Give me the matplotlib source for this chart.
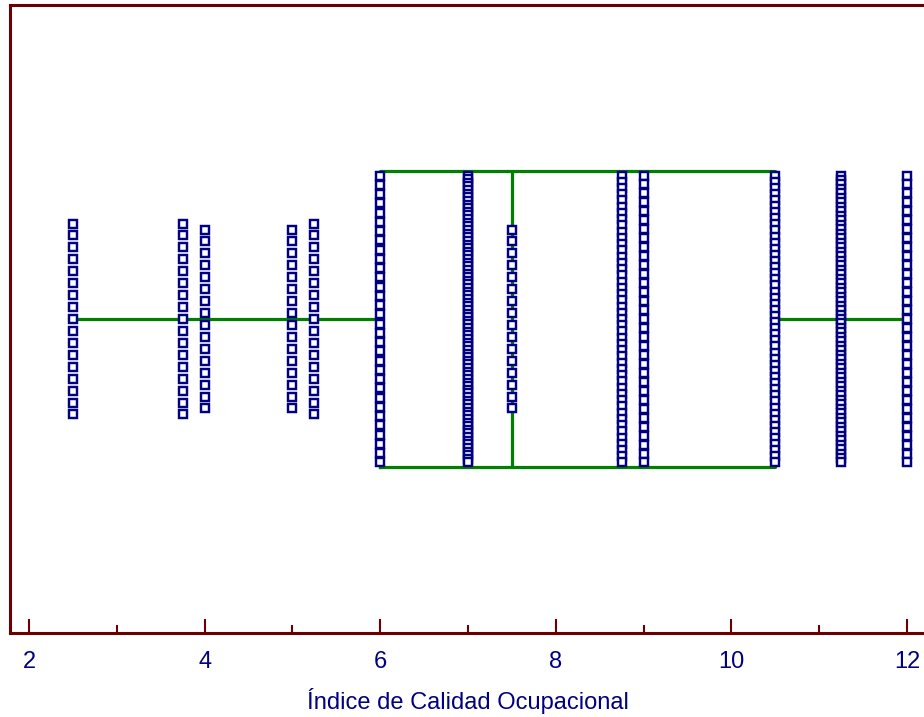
import matplotlib.pyplot as plt
import numpy as np
from matplotlib.ticker import MultipleLocator

# Distinct values of the index and how many points sit at each value
values = [2.5, 3.75, 4.0, 5.0, 5.25, 6.0, 7.0, 7.5, 8.75, 9.0, 10.5, 11.25, 12.0]
counts = [17, 17, 16, 16, 17, 32, 80, 16, 47, 33, 48, 65, 33]

# Box-and-whisker summary
q1 = 6.0
median = 7.5
q3 = 10.5
whisker_low = 2.5
whisker_high = 12.0

axis_color = '#6B0000'
text_color = '#000080'
line_color = '#008000'

plt.rcParams['font.family'] = ['Liberation Sans', 'DejaVu Sans']

fig = plt.figure(figsize=(9.24, 7.17), dpi=100)
ax = fig.add_axes([10 / 924, 84 / 717, 916 / 924, 628 / 717])

stats = [{'med': median, 'q1': q1, 'q3': q3,
          'whislo': whisker_low, 'whishi': whisker_high, 'fliers': []}]
line_props = dict(color=line_color, linewidth=2.3)
ax.bxp(stats, positions=[0.5], widths=0.47, orientation='horizontal',
       showcaps=False, showfliers=False,
       boxprops=line_props, whiskerprops=line_props, medianprops=line_props)

# Points with equal value are stacked around the centre line,
# squeezed when the stack would outgrow the box
max_height = 0.457
base_step = 0.019
for v, n in zip(values, counts):
    step = min(base_step, max_height / (n - 1))
    ys = 0.5 + (np.arange(n) - (n - 1) / 2) * step
    ys = ys[::-1]
    for y in ys:
        ax.plot(v, y, marker='s', markersize=5.8, markeredgewidth=1.75,
                markeredgecolor='#000080', markerfacecolor='white',
                linestyle='none', zorder=3)

ax.set_xlim(1.7836, 12.2164)
ax.set_ylim(0, 1)
ax.xaxis.set_major_locator(MultipleLocator(2))
ax.xaxis.set_minor_locator(MultipleLocator(1))
ax.tick_params(axis='x', which='major', direction='in', length=10, width=1.5,
               color=axis_color, labelcolor=text_color, labelsize=17, pad=13)
ax.tick_params(axis='x', which='minor', direction='in', length=5.5, width=1.5,
               color=axis_color)
ax.set_yticks([])
for s in ax.spines.values():
    s.set_color(axis_color)
    s.set_linewidth(2.2)

ax.set_xlabel('Índice de Calidad Ocupacional', color=text_color, fontsize=17,
              labelpad=11)

fig.savefig('out.png', dpi=100)
